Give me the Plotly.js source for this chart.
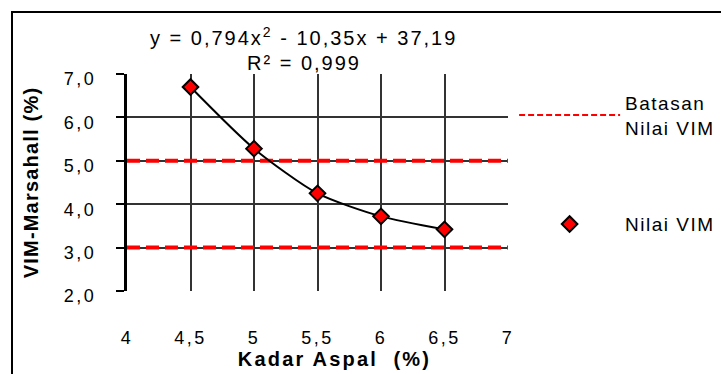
<!DOCTYPE html>
<html><head><meta charset="utf-8">
<script src="https://cdn.plot.ly/plotly-3.0.1.min.js"></script>
<style>
html,body{margin:0;padding:0;overflow:hidden;background:#fff}
g.ytick text{letter-spacing:2.5px}
g.xtick text{letter-spacing:2.5px}
text.xtitle{letter-spacing:2.2px; translate:17px 0}
text.ytitle{letter-spacing:1.2px; translate:-14px 0}
text.legendtext{letter-spacing:1.5px}
text.annotation-text{letter-spacing:2px}
</style>
</head><body><div id="chart" style="width:721px;height:374px"></div>
<script>
const kadarAspal = [4.5, 5.0, 5.5, 6.0, 6.5];
const nilaiVIM = [6.70, 5.28, 4.25, 3.72, 3.42];
const batasX = [4, 7];
const batasAtas = [5, 5];
const batasBawah = [3, 3];
const xTickVals = [4, 4.5, 5, 5.5, 6, 6.5, 7];
const xTickText = ['4', '4,5', '5', '5,5', '6', '6,5', '7'];
const yTickVals = [2, 3, 4, 5, 6, 7];
const yTickText = ['2,0', '3,0', '4,0', '5,0', '6,0', '7,0'];
const nameBatas = 'Batasan<br>Nilai VIM';
const nameNilai = 'Nilai VIM';
const equationText = 'y = 0,794x<sup>2</sup> - 10,35x + 37,19';
const r2Text = 'R² = 0,999';

const FONT = '"Liberation Sans", Arial, sans-serif';
const RED = '#ff0000';

const traces = [
  {x: batasX, y: batasAtas, mode: 'lines', name: nameBatas, showlegend: false,
   line: {color: RED, width: 4, dash: '13px,6px'}, hoverinfo: 'skip'},
  {x: batasX, y: batasBawah, mode: 'lines', name: nameBatas, showlegend: false,
   line: {color: RED, width: 4, dash: '13px,6px'}, hoverinfo: 'skip'},
  {x: [null], y: [null], mode: 'lines', name: nameBatas, legendgroup: 'a',
   line: {color: RED, width: 2, dash: '6px,3px'}},
  {x: kadarAspal, y: nilaiVIM, mode: 'lines', showlegend: false,
   line: {color: '#000', width: 2, shape: 'spline', smoothing: 0.7}},
  {x: kadarAspal, y: nilaiVIM, mode: 'markers', name: nameNilai, legendgroup: 'b',
   marker: {symbol: 'diamond', size: 12, color: RED, line: {color: '#000', width: 2}}}
];

const layout = {
  width: 721, height: 374,
  margin: {l: 127, r: 213, t: 74, b: 83, pad: 0, autoexpand: false},
  paper_bgcolor: '#fff', plot_bgcolor: '#fff',
  font: {family: FONT, size: 18, color: '#000'},
  showlegend: true,
  legend: {x: 1.016, y: 0.955, xanchor: 'left', yanchor: 'top',
           font: {family: FONT, size: 19, color: '#000'},
           tracegroupgap: 69, itemwidth: 101, bgcolor: 'rgba(0,0,0,0)'},
  xaxis: {range: [4, 7], tickvals: xTickVals, ticktext: xTickText,
          showgrid: true, gridcolor: '#333', gridwidth: 2,
          showline: false, zeroline: false, ticks: '', ticklabelstandoff: 34,
          tickfont: {family: FONT, size: 18},
          title: {text: 'Kadar Aspal\u00a0\u00a0(%)', font: {family: FONT, size: 20, weight: 'bold'}, standoff: 3}},
  yaxis: {range: [2, 7], tickvals: yTickVals, ticktext: yTickText,
          showgrid: true, gridcolor: '#333', gridwidth: 2,
          showline: true, linecolor: '#000', linewidth: 3, zeroline: false,
          ticks: 'outside', ticklen: 8, tickwidth: 2, tickcolor: '#000',
          ticklabelstandoff: 16, ticklabelshift: 5, tickfont: {family: FONT, size: 18},
          title: {text: 'VIM-Marsahall (%)', font: {family: FONT, size: 20, weight: 'bold'}, standoff: 6}},
  annotations: [
    {xref: 'paper', yref: 'paper', x: 0.464, y: (291 - 37) / 217, xanchor: 'center', yanchor: 'middle',
     text: equationText, showarrow: false, font: {family: FONT, size: 20}},
    {xref: 'paper', yref: 'paper', x: 0.464, y: (291 - 63) / 217, xanchor: 'center', yanchor: 'middle',
     text: r2Text, showarrow: false, font: {family: FONT, size: 20}}
  ],
  shapes: [
    {type: 'rect', xref: 'paper', yref: 'paper', x0: (12 - 127) / 381, x1: 1.7, y0: -0.5, y1: (291 - 12) / 217,
     line: {color: '#000', width: 2}, fillcolor: 'rgba(0,0,0,0)', layer: 'below'}
  ]
};

Plotly.newPlot('chart', traces, layout, {displayModeBar: false, staticPlot: true});
</script></body></html>
